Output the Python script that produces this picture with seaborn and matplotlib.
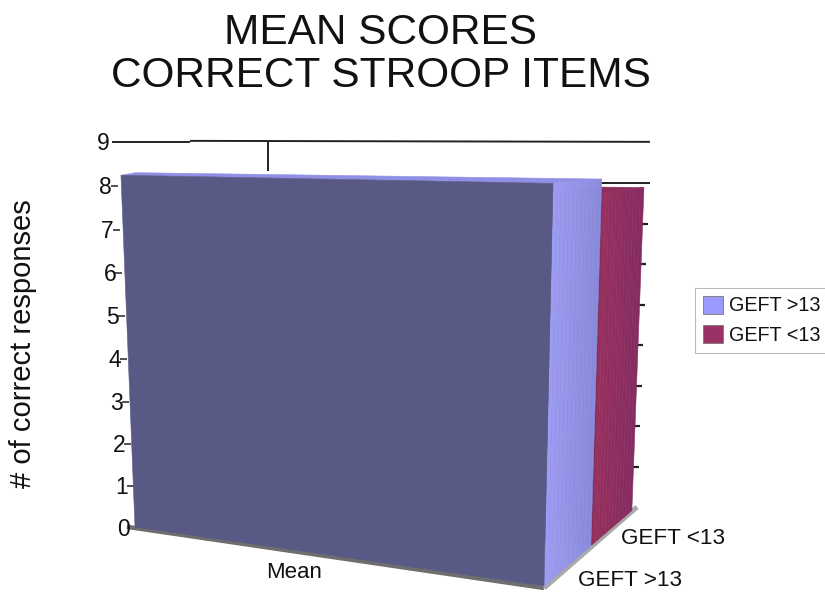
import numpy as np
import pandas as pd
import matplotlib
matplotlib.use("Agg")
import matplotlib.pyplot as plt
from matplotlib.patches import Patch
import seaborn as sns

# ---- data ----
title_lines = ["MEAN SCORES", "CORRECT STROOP ITEMS"]
y_label = "# of correct responses"
category = "Mean"
series_names = ["GEFT >13", "GEFT <13"]
series_values = [8.2, 7.9]
value_ticks = [0, 1, 2, 3, 4, 5, 6, 7, 8, 9]

# ---- colours ----
FRONT = "#585985"
SIDE_COLS = [("#9c9cf2", "#8b8bdc"), ("#96305f", "#862c60")]
TOP_COLS = ["#8f8fe6", "#8a2c5c"]
LEGEND_COLS = ["#9999ff", "#993366"]

sns.set_theme(style="white")
plt.rcParams["font.family"] = ["Liberation Sans", "DejaVu Sans"]

fig = plt.figure(figsize=(8.25, 5.92), dpi=100)
ax = fig.add_axes([0, 0, 1, 1])
ax.set_xlim(0, 825)
ax.set_ylim(592, 0)
ax.axis("off")

# ---- oblique projection of (width u, value v, depth w) on to the canvas ----
FLOOR = np.array([[[135, 527], [158, 490]], [[544, 586], [636, 507]]], float)
UP = np.array([[[-1.71, -42.9], [-1.0, -39.0]], [[1.1, -49.1], [1.55, -40.5]]])


def project(u, v, w):
    def mix(g):
        return ((1 - u) * (1 - w) * g[0, 0] + (1 - u) * w * g[0, 1]
                + u * (1 - w) * g[1, 0] + u * w * g[1, 1])
    return mix(FLOOR) + v * mix(UP)


def face(points, color, z):
    xy = np.array([project(*p) for p in points])
    ax.fill(xy[:, 0], xy[:, 1], color=color, lw=0.4, zorder=z)


def line(xs, ys, color, lw, z=1):
    df = pd.DataFrame({"x": xs, "y": ys})
    sns.lineplot(data=df, x="x", y="y", sort=False, estimator=None, ax=ax,
                 color=color, lw=lw, zorder=z, legend=False,
                 solid_capstyle="butt")


def left_x(v):
    return 133 - 2.3 * v


def left_y(v):
    # the value axis stretches slightly towards its top in the perspective view
    return 528 - 41.6 * v - 0.145 * v ** 2


# ---- wall grid and ticks ----
top = project(1, value_ticks[-1], 1)
line([left_x(9), 190], [left_y(9), left_y(9)], "#222222", 1.4)
line([190, top[0]], [left_y(9) - 1, left_y(9)], "#222222", 1.4)
line([268, 268], [left_y(9), 171], "#222222", 1.4)
for v in value_ticks[1:-1]:
    p = project(1, v, 1)
    if v == 8:
        line([600, top[0]], [p[1], p[1]], "#222222", 1.4)
    else:
        line([p[0] - 5, p[0] + 1], [p[1], p[1]], "#222222", 1.6)
for v in value_ticks[:-1]:
    line([left_x(v) - 4, left_x(v) + 3], [left_y(v), left_y(v)], "#333333", 1.2)
for v in value_ticks:
    ax.text(left_x(v) - 3, left_y(v) + 1.5, str(v), ha="right", va="center",
            fontsize=16.5, color="#111111")

# ---- floor edges ----
a = project(-0.02, 0, 0) + [0, 1]
b = project(1, 0, 0) + [0, 2]
c = project(1, 0, 1) + [1, 0]
line([a[0], b[0]], [a[1], b[1]], "#6e6e6e", 3.2, 2)
line([b[0], c[0]], [b[1], c[1]], "#a9a9a9", 3.6, 2)

# ---- bars, rear series first ----
depths = [(0.0, 0.51), (0.52, 0.955)]
for i in (1, 0):
    val = series_values[i]
    w0, w1 = depths[i]
    z = 5 if i else 10
    face([(0, val, w1), (1, val, w1), (1, val, w0), (0, val, w0)], TOP_COLS[i], z)
    steps = 12
    edges = np.linspace(w0, w1, steps + 1)
    start = matplotlib.colors.to_rgb(SIDE_COLS[i][0])
    end = matplotlib.colors.to_rgb(SIDE_COLS[i][1])
    for k in range(steps):
        t = k / (steps - 1)
        col = tuple(s + (e - s) * t for s, e in zip(start, end))
        face([(1, 0, edges[k]), (1, 0, edges[k + 1]),
              (1, val, edges[k + 1]), (1, val, edges[k])], col, z)
    face([(0, 0, w0), (1, 0, w0), (1, val, w0), (0, val, w0)],
         FRONT if i == 0 else "#7a2650", z + 1)

# ---- text ----
ax.text(381, 33, title_lines[0], ha="center", va="center", fontsize=30.5, color="#111111")
ax.text(381, 76, title_lines[1], ha="center", va="center", fontsize=30.5, color="#111111")
ax.text(23, 344, y_label, rotation=90, ha="center", va="center", fontsize=21, color="#111111")
ax.text(294, 572, category, ha="center", va="center", fontsize=16, color="#111111")
ax.text(621, 538, series_names[1], ha="left", va="center", fontsize=16.2, color="#111111")
ax.text(578, 581, series_names[0], ha="left", va="center", fontsize=16.2, color="#111111")

# ---- legend ----
handles = [Patch(facecolor=c_, edgecolor="#777777", lw=0.6, label=n)
           for c_, n in zip(LEGEND_COLS, series_names)]
leg = ax.legend(handles=handles, loc="upper left", bbox_to_anchor=(695 / 825, 1 - 288 / 592),
                borderaxespad=0, frameon=True, fancybox=False, fontsize=14.2,
                handlelength=1.0, handleheight=1.0, handletextpad=0.3,
                labelspacing=0.5, borderpad=0.4, labelcolor="#111111")
leg.get_frame().set_edgecolor("#aaaaaa")
leg.get_frame().set_linewidth(0.8)
leg.set_zorder(20)

fig.savefig("out.png", dpi=100, facecolor="white")
